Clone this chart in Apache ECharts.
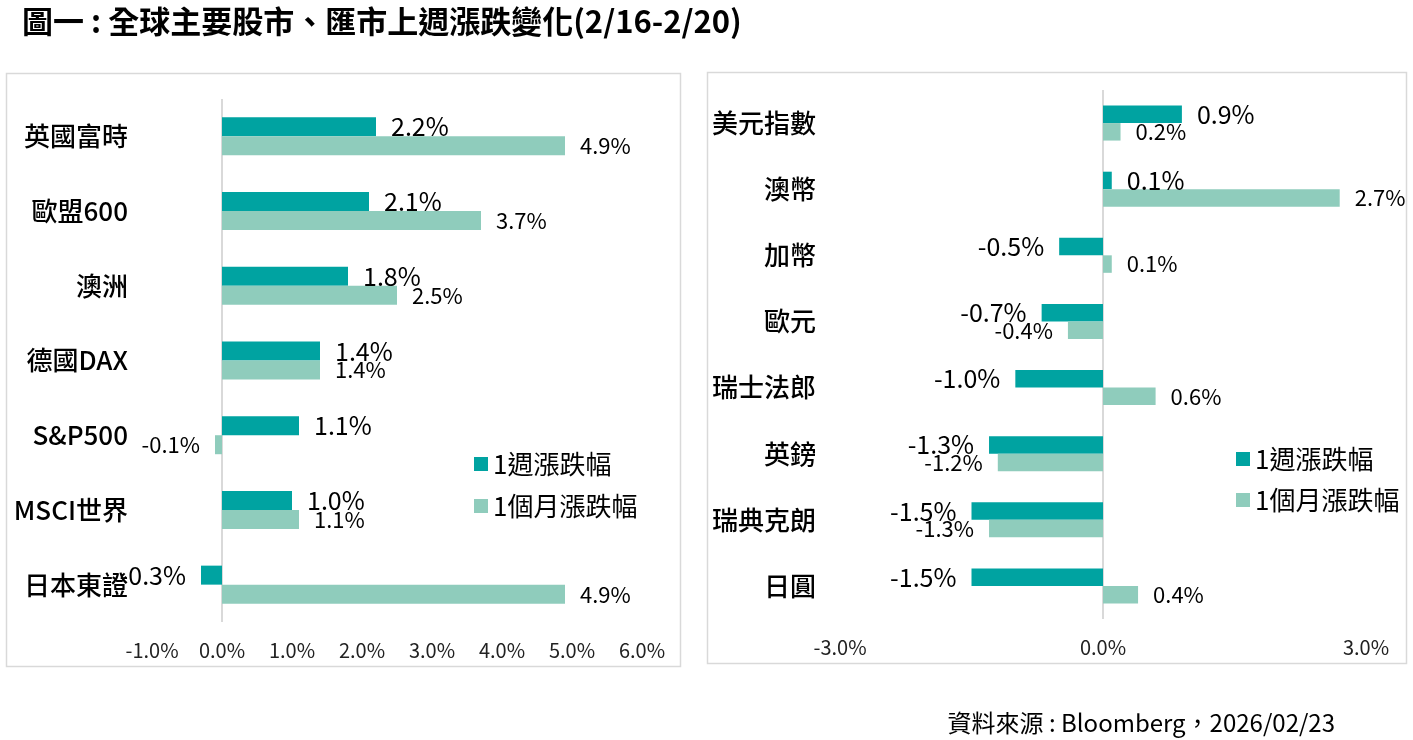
<!DOCTYPE html>
<html><head><meta charset="utf-8">
<script src="https://cdn.jsdelivr.net/npm/echarts@6/dist/echarts.min.js"></script>
<style>html,body{margin:0;padding:0;background:#fff}#c{width:1413px;height:740px}</style>
</head><body><div id="c"></div>
<script>
const stockCats = ['英國富時','歐盟600','澳洲','德國DAX','S&P500','MSCI世界','日本東證'];
const stockWeek = [2.2, 2.1, 1.8, 1.4, 1.1, 1.0, -0.3];
const stockMonth = [4.9, 3.7, 2.5, 1.4, -0.1, 1.1, 4.9];
const fxCats = ['美元指數','澳幣','加幣','歐元','瑞士法郎','英鎊','瑞典克朗','日圓'];
const fxWeek = [0.9, 0.1, -0.5, -0.7, -1.0, -1.3, -1.5, -1.5];
const fxMonth = [0.2, 2.7, 0.1, -0.4, 0.6, -1.2, -1.3, 0.4];
const seriesNames = ['1週漲跌幅','1個月漲跌幅'];
const title = '圖一 : 全球主要股市、匯市上週漲跌變化(2/16-2/20)';
const source = '資料來源 : Bloomberg，2026/02/23';

const FONT = '"Noto Sans CJK TC","Noto Sans",sans-serif';
const C1 = '#00A3A1', C2 = '#8FCCBC';
const pct = v => v.toFixed(1) + '%';
function toData(arr){ return arr.map(v => ({value:v, label:{position: v < 0 ? 'left' : 'right'}})); }

function bar(name, arr, gi, color, fs, bw, withLine){
  const s = {
    name, type:'bar', xAxisIndex:gi, yAxisIndex:gi, data: toData(arr),
    barWidth: bw, barGap: '0%', itemStyle:{color},
    label:{show:true, distance:15, fontSize:fs, color:'#000', fontFamily:FONT, formatter:p=>pct(p.value)},
    emphasis:{disabled:true}, z:3
  };
  if (withLine) s.markLine = {silent:true, symbol:'none', label:{show:false},
    lineStyle:{color:'#d9d9d9', width:2, type:'solid'}, data:[{xAxis:0}], z:2};
  return s;
}

const xAxisCommon = {type:'value', axisLine:{show:false}, axisTick:{show:false}, splitLine:{show:false},
  axisLabel:{fontSize:20, color:'#222', fontFamily:FONT, margin:18, formatter:v=>pct(v)}};
const yAxisCommon = {type:'category', inverse:true, axisLine:{show:false}, axisTick:{show:false},
  axisLabel:{fontSize:26, color:'#000', fontFamily:FONT, fontWeight:500, margin:24}};

const legendText = {fontSize:26, color:'#000', fontFamily:FONT};

const chart = echarts.init(document.getElementById('c'));
chart.setOption({
  animation:false,
  textStyle:{fontFamily:FONT},
  title:{text:title, left:17, top:1, textStyle:{fontSize:31, fontWeight:'bold', color:'#000', fontFamily:FONT}},
  graphic:[
    {type:'rect', shape:{x:6.5, y:73.5, width:674, height:593}, style:{fill:'none', stroke:'#d9d9d9', lineWidth:1.5}, z:-1},
    {type:'rect', shape:{x:707.5, y:72.5, width:699, height:591}, style:{fill:'none', stroke:'#d9d9d9', lineWidth:1.5}, z:-1},
    {type:'text', right:78, top:711, style:{text:source, fontSize:24, fill:'#000', fontFamily:FONT}}
  ],
  legend:[
    {data:seriesNames, orient:'vertical', left:469, top:446, icon:'rect', itemWidth:14, itemHeight:14, itemGap:16,
     textStyle:legendText, selectedMode:false},
    {data:seriesNames, orient:'vertical', left:1231, top:441, icon:'rect', itemWidth:14, itemHeight:14, itemGap:15,
     textStyle:legendText, selectedMode:false}
  ],
  grid:[
    {left:152, top:99, width:490, height:523, containLabel:false},
    {left:840, top:90, width:526, height:529, containLabel:false}
  ],
  xAxis:[
    Object.assign({}, xAxisCommon, {gridIndex:0, min:-1, max:6, interval:1}),
    Object.assign({}, xAxisCommon, {gridIndex:1, min:-3, max:3, interval:3})
  ],
  yAxis:[
    Object.assign({}, yAxisCommon, {gridIndex:0, data:stockCats}),
    Object.assign({}, yAxisCommon, {gridIndex:1, data:fxCats})
  ],
  series:[
    bar(seriesNames[0], stockWeek, 0, C1, 25, 19, true),
    bar(seriesNames[1], stockMonth, 0, C2, 22, 19, false),
    bar(seriesNames[0], fxWeek, 1, C1, 25, 17.5, true),
    bar(seriesNames[1], fxMonth, 1, C2, 22, 17.5, false)
  ]
});
</script></body></html>
